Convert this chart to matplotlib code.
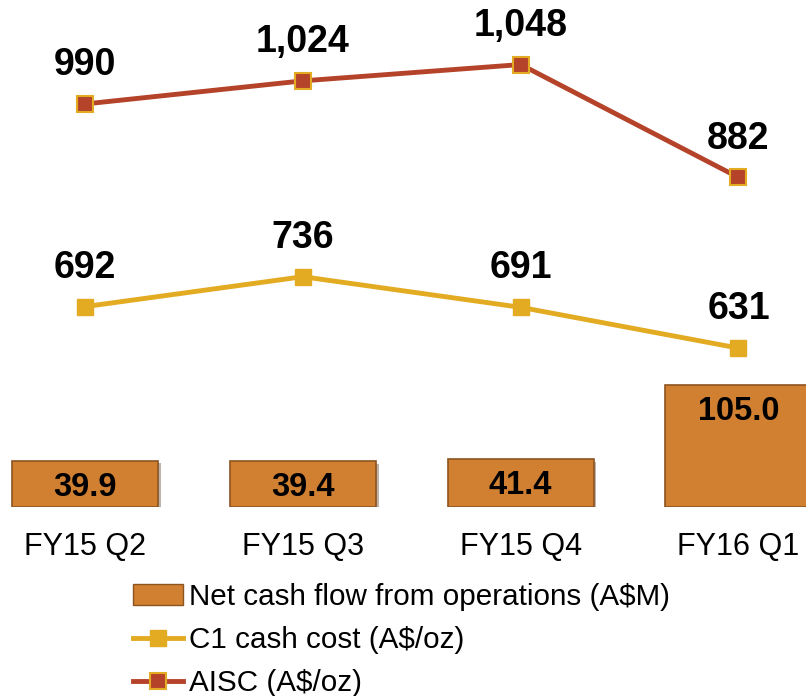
import matplotlib.pyplot as plt
import matplotlib.patheffects as pe
from matplotlib.patches import Patch
from matplotlib.lines import Line2D
import numpy as np

# data
quarters = ['FY15 Q2', 'FY15 Q3', 'FY15 Q4', 'FY16 Q1']
net_cash = [39.9, 39.4, 41.4, 105.0]
c1_cost = [692, 736, 691, 631]
aisc = [990, 1024, 1048, 882]

bar_col = '#D17F30'
c1_col = '#E2AB22'
aisc_col = '#B5432A'

plt.rcParams['font.family'] = ['Liberation Sans', 'DejaVu Sans']

fig = plt.figure(figsize=(8.06, 6.96), dpi=100)
ax = fig.add_axes([0, 0.2716, 1, 0.7284])
x = np.arange(len(quarters))

bars = ax.bar(x, net_cash, width=0.67, color=bar_col, edgecolor='#8E5420', linewidth=1.2,
              path_effects=[pe.SimplePatchShadow(offset=(2, -2), alpha=0.35), pe.Normal()])
for xi, v in zip(x, net_cash):
    ax.annotate('%.1f' % v, (xi, v), xytext=(0, -19), textcoords='offset points',
                ha='center', va='center', fontsize=23.5, fontweight='bold')

ax.set_xlim(-0.39, 3.31)
ax.set_ylim(0, 437)
ax.set_xticks(x)
ax.set_xticklabels(quarters, fontsize=22)
ax.tick_params(axis='x', length=0, pad=18)
ax.set_yticks([])
for s in ax.spines.values():
    s.set_visible(False)

ax2 = ax.twinx()
ax2.plot(x, c1_cost, color=c1_col, lw=3.5, marker='s', ms=11, mfc=c1_col, mec=c1_col)
ax2.plot(x, aisc, color=aisc_col, lw=3.5, marker='s', ms=11, mfc=aisc_col, mec=c1_col, mew=1.5)
for xi, v in zip(x, c1_cost):
    ax2.annotate('{:,}'.format(v), (xi, v), xytext=(0, 28), textcoords='offset points',
                 ha='center', va='center', fontsize=27, fontweight='bold')
for xi, v in zip(x, aisc):
    ax2.annotate('{:,}'.format(v), (xi, v), xytext=(0, 28), textcoords='offset points',
                 ha='center', va='center', fontsize=27, fontweight='bold')
ax2.set_ylim(397.4, 1142.9)
ax2.set_yticks([])
for s in ax2.spines.values():
    s.set_visible(False)

handles = [Patch(facecolor=bar_col, edgecolor='#8E5420'),
           Line2D([], [], color=c1_col, lw=3.5, marker='s', ms=11, mfc=c1_col, mec=c1_col),
           Line2D([], [], color=aisc_col, lw=3.5, marker='s', ms=11, mfc=aisc_col, mec=c1_col, mew=1.5)]
labels = ['Net cash flow from operations (A$M)', 'C1 cash cost (A$/oz)', 'AISC (A$/oz)']
fig.legend(handles, labels, loc='upper left', bbox_to_anchor=(0.165, 0.163), frameon=False,
           fontsize=21.3, handlelength=1.7, handletextpad=0.18, labelspacing=0.52,
           borderpad=0, borderaxespad=0)

plt.savefig('out.png', dpi=100)
